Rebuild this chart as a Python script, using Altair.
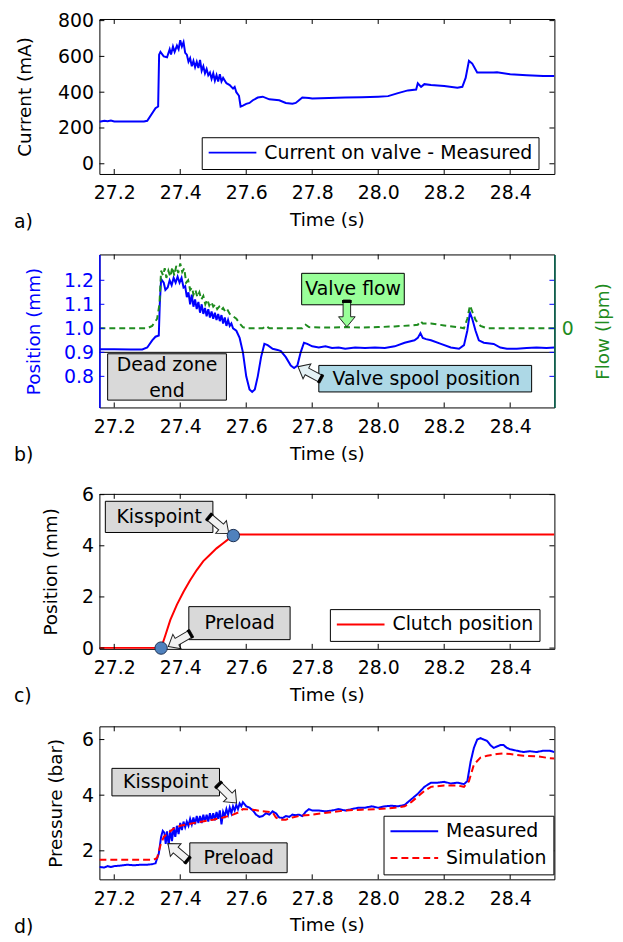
import altair as alt
import pandas as pd

FONT = "DejaVu Sans"
BLUE = "#0000ff"
RED = "#ff0000"
GREEN = "#1f8c1f"
GREEN_AXIS = "#00604a"
GRAY = "#d9d9d9"
ARROW_FILL = "#f2f2f2"

T_DOMAIN = [27.155, 28.534]
X_TICKS = [27.2, 27.4, 27.6, 27.8, 28.0, 28.2, 28.4]
PLOT_W = 458

# ---------------- data (time s, value) ----------------
CURRENT = [
    (27.155, 235), (27.17, 240), (27.18, 238), (27.19, 242), (27.20, 236), (27.29, 236),
    (27.30, 240), (27.325, 310), (27.333, 320), (27.336, 610), (27.34, 625), (27.35, 600),
    (27.36, 595), (27.368, 640), (27.372, 610), (27.378, 655), (27.383, 625), (27.39, 660),
    (27.395, 640), (27.40, 690), (27.405, 655), (27.41, 680), (27.415, 620), (27.42, 610),
    (27.425, 570), (27.43, 590), (27.435, 545), (27.44, 575), (27.445, 540), (27.45, 570),
    (27.455, 535), (27.46, 580), (27.465, 520), (27.47, 545), (27.475, 505), (27.48, 530),
    (27.485, 495), (27.49, 510), (27.495, 475), (27.50, 505), (27.505, 465), (27.51, 495),
    (27.515, 460), (27.52, 500), (27.525, 460), (27.53, 480), (27.54, 450), (27.55, 440),
    (27.56, 420), (27.565, 430), (27.57, 400), (27.578, 380), (27.583, 320), (27.59, 325),
    (27.60, 335), (27.61, 340), (27.62, 355), (27.635, 370), (27.65, 375), (27.67, 360),
    (27.70, 355), (27.72, 340), (27.74, 335), (27.75, 340), (27.76, 355), (27.77, 370),
    (27.79, 368), (27.80, 365), (27.85, 368), (27.90, 370), (27.95, 372), (28.00, 375),
    (28.03, 378), (28.06, 395), (28.09, 410), (28.115, 415), (28.12, 450), (28.13, 430),
    (28.14, 445), (28.16, 440), (28.20, 435), (28.24, 425), (28.255, 430), (28.265, 480),
    (28.275, 575), (28.285, 560), (28.30, 510), (28.35, 510), (28.36, 512), (28.40, 500),
    (28.45, 495), (28.50, 490), (28.534, 490),
]

SPOOL = [
    (27.155, 0.913), (27.20, 0.913), (27.25, 0.912), (27.285, 0.912), (27.30, 0.92),
    (27.315, 0.95), (27.325, 0.965), (27.335, 0.97), (27.338, 1.10), (27.342, 1.205),
    (27.35, 1.19), (27.355, 1.16), (27.362, 1.17), (27.368, 1.20), (27.374, 1.18),
    (27.38, 1.21), (27.386, 1.19), (27.392, 1.215), (27.398, 1.19), (27.404, 1.21),
    (27.41, 1.17), (27.415, 1.175), (27.42, 1.13), (27.425, 1.15), (27.43, 1.10),
    (27.435, 1.14), (27.44, 1.09), (27.445, 1.12), (27.45, 1.08), (27.455, 1.11),
    (27.46, 1.065), (27.465, 1.10), (27.47, 1.06), (27.475, 1.085), (27.48, 1.05),
    (27.485, 1.08), (27.49, 1.045), (27.495, 1.07), (27.50, 1.04), (27.505, 1.065),
    (27.51, 1.035), (27.515, 1.06), (27.52, 1.03), (27.525, 1.055), (27.53, 1.02),
    (27.535, 1.045), (27.54, 1.01), (27.545, 1.035), (27.55, 1.01), (27.555, 1.02),
    (27.56, 1.0), (27.57, 0.99), (27.58, 0.96), (27.59, 0.90), (27.60, 0.80),
    (27.61, 0.745), (27.618, 0.735), (27.626, 0.745), (27.635, 0.80), (27.645, 0.88),
    (27.655, 0.935), (27.665, 0.93), (27.68, 0.915), (27.695, 0.91), (27.705, 0.905),
    (27.72, 0.88), (27.735, 0.845), (27.745, 0.835), (27.755, 0.845), (27.765, 0.90),
    (27.775, 0.94), (27.785, 0.935), (27.80, 0.925), (27.82, 0.92), (27.84, 0.925),
    (27.86, 0.918), (27.88, 0.92), (27.90, 0.915), (27.93, 0.92), (27.96, 0.918),
    (27.99, 0.92), (28.02, 0.918), (28.05, 0.925), (28.08, 0.94), (28.11, 0.95),
    (28.12, 0.96), (28.128, 0.98), (28.135, 0.96), (28.145, 0.955), (28.16, 0.95),
    (28.19, 0.935), (28.22, 0.92), (28.245, 0.915), (28.26, 0.93), (28.27, 0.99),
    (28.278, 1.065), (28.285, 1.04), (28.295, 0.99), (28.305, 0.95), (28.32, 0.94),
    (28.35, 0.935), (28.37, 0.92), (28.39, 0.915), (28.42, 0.915), (28.45, 0.918),
    (28.48, 0.92), (28.51, 0.918), (28.534, 0.92),
]

FLOW = [
    (27.155, 1.0), (27.30, 1.0), (27.315, 1.01), (27.33, 1.04), (27.337, 1.10),
    (27.342, 1.24), (27.348, 1.22), (27.353, 1.25), (27.358, 1.21), (27.364, 1.24),
    (27.37, 1.215), (27.376, 1.255), (27.382, 1.22), (27.388, 1.26), (27.394, 1.23),
    (27.40, 1.27), (27.406, 1.235), (27.412, 1.25), (27.418, 1.19), (27.424, 1.20),
    (27.43, 1.16), (27.436, 1.17), (27.44, 1.14), (27.446, 1.16), (27.452, 1.13),
    (27.458, 1.15), (27.464, 1.12), (27.47, 1.135), (27.476, 1.10), (27.482, 1.12),
    (27.488, 1.095), (27.494, 1.11), (27.50, 1.09), (27.506, 1.10), (27.512, 1.08),
    (27.518, 1.09), (27.524, 1.075), (27.53, 1.085), (27.536, 1.07), (27.542, 1.08),
    (27.55, 1.06), (27.56, 1.05), (27.57, 1.04), (27.58, 1.02), (27.59, 1.005),
    (27.60, 1.0), (27.65, 1.0), (27.66, 1.01), (27.67, 1.0), (27.77, 1.0),
    (27.78, 1.015), (27.79, 1.005), (27.85, 1.003), (27.90, 1.005), (27.95, 1.003),
    (28.00, 1.005), (28.05, 1.008), (28.10, 1.012), (28.12, 1.015), (28.128, 1.03),
    (28.135, 1.02), (28.16, 1.02), (28.20, 1.012), (28.24, 1.005), (28.26, 1.0),
    (28.27, 1.04), (28.278, 1.095), (28.285, 1.07), (28.295, 1.035), (28.31, 1.01),
    (28.33, 1.0), (28.534, 1.0),
]

CLUTCH = [
    (27.155, 0.0), (27.342, 0.0), (27.355, 0.5), (27.37, 1.1), (27.39, 1.7), (27.41, 2.2),
    (27.43, 2.65), (27.45, 3.05), (27.47, 3.4), (27.49, 3.65), (27.51, 3.9), (27.53, 4.1),
    (27.55, 4.3), (27.561, 4.42), (27.57, 4.44), (28.534, 4.44),
]

PRESS_MEAS = [
    (27.155, 1.42), (27.17, 1.40), (27.18, 1.45), (27.19, 1.42), (27.20, 1.45), (27.22, 1.47),
    (27.24, 1.50), (27.26, 1.48), (27.28, 1.50), (27.30, 1.50), (27.315, 1.52), (27.325, 1.55),
    (27.335, 1.9), (27.342, 2.5), (27.347, 2.72), (27.352, 2.65), (27.356, 2.25), (27.36, 2.7),
    (27.365, 2.2), (27.37, 2.75), (27.375, 2.35), (27.38, 2.85), (27.385, 2.5), (27.39, 2.9),
    (27.395, 2.6), (27.40, 3.0), (27.405, 2.75), (27.41, 3.05), (27.415, 2.85), (27.42, 3.05),
    (27.425, 2.9), (27.43, 3.15), (27.435, 2.95), (27.44, 3.2), (27.445, 2.95), (27.45, 3.25),
    (27.455, 3.0), (27.46, 3.25), (27.465, 3.0), (27.47, 3.3), (27.475, 3.05), (27.48, 3.3),
    (27.485, 3.05), (27.49, 3.35), (27.495, 3.1), (27.50, 3.35), (27.505, 3.1), (27.51, 3.4),
    (27.515, 3.15), (27.52, 3.45), (27.525, 2.95), (27.53, 3.4), (27.535, 3.25), (27.54, 3.5),
    (27.545, 3.3), (27.55, 3.55), (27.555, 3.35), (27.56, 3.6), (27.565, 3.45), (27.57, 3.65),
    (27.575, 3.5), (27.58, 3.7), (27.585, 3.6), (27.59, 3.75), (27.60, 3.6), (27.61, 3.55),
    (27.62, 3.45), (27.63, 3.3), (27.64, 3.22), (27.65, 3.25), (27.66, 3.35), (27.67, 3.3),
    (27.68, 3.42), (27.69, 3.35), (27.70, 3.2), (27.71, 3.18), (27.72, 3.25), (27.73, 3.22),
    (27.74, 3.3), (27.75, 3.28), (27.76, 3.3), (27.77, 3.25), (27.78, 3.4), (27.79, 3.5),
    (27.80, 3.45), (27.82, 3.45), (27.84, 3.42), (27.86, 3.45), (27.88, 3.5), (27.90, 3.45),
    (27.92, 3.5), (27.94, 3.55), (27.96, 3.55), (27.98, 3.6), (28.00, 3.55), (28.02, 3.6),
    (28.04, 3.62), (28.06, 3.6), (28.08, 3.65), (28.10, 3.85), (28.12, 4.05), (28.14, 4.3),
    (28.16, 4.45), (28.18, 4.45), (28.20, 4.48), (28.22, 4.42), (28.24, 4.45), (28.26, 4.4),
    (28.27, 4.5), (28.28, 5.2), (28.29, 5.7), (28.30, 6.0), (28.31, 6.05), (28.32, 6.0),
    (28.33, 5.95), (28.34, 5.8), (28.35, 5.7), (28.36, 5.75), (28.37, 5.8), (28.38, 5.8),
    (28.39, 5.7), (28.40, 5.65), (28.42, 5.6), (28.44, 5.55), (28.46, 5.58), (28.48, 5.55),
    (28.50, 5.6), (28.52, 5.6), (28.534, 5.55),
]

PRESS_SIM = [
    (27.155, 1.68), (27.32, 1.68), (27.33, 1.75), (27.34, 2.2), (27.35, 2.5), (27.36, 2.6),
    (27.37, 2.7), (27.38, 2.8), (27.39, 2.85), (27.40, 2.9), (27.42, 2.95), (27.45, 3.02),
    (27.48, 3.08), (27.50, 3.12), (27.53, 3.2), (27.56, 3.3), (27.58, 3.4), (27.59, 3.5),
    (27.62, 3.48), (27.65, 3.42), (27.68, 3.38), (27.69, 3.2), (27.70, 3.12), (27.72, 3.12),
    (27.74, 3.2), (27.76, 3.25), (27.78, 3.28), (27.80, 3.3), (27.85, 3.38), (27.90, 3.45),
    (27.95, 3.48), (28.00, 3.5), (28.05, 3.55), (28.08, 3.6), (28.10, 3.75), (28.12, 3.95),
    (28.14, 4.15), (28.16, 4.3), (28.20, 4.35), (28.24, 4.35), (28.26, 4.3), (28.275, 4.5),
    (28.29, 5.1), (28.31, 5.35), (28.33, 5.42), (28.36, 5.48), (28.38, 5.5), (28.40, 5.48),
    (28.44, 5.42), (28.48, 5.4), (28.52, 5.33), (28.534, 5.32),
]

# annotations (data units)
B_BOXES = [(27.768, 28.079, 1.098, 1.229, "#99ff99"),
           (27.820, 28.465, 0.735, 0.8455, "#add8e6"),
           (27.180, 27.540, 0.701, 0.894, GRAY)]
B_TEXTS = [(27.924, 1.163, "Valve flow"), (28.146, 0.790, "Valve spool position"),
           (27.360, 0.846, "Dead zone"), (27.360, 0.738, "end")]
B_ARROWS = [(27.905, 1.062, 90, "#99ff99"), (27.793, 0.814, 208, "#e4f1f5")]

C_BOXES = [(27.173, 27.499, 4.52, 5.74, GRAY), (27.426, 27.733, 0.33, 1.62, GRAY)]
C_TEXTS = [(27.336, 5.13, "Kisspoint"), (27.58, 0.975, "Preload")]
C_ARROWS = [(27.516, 4.82, 40, ARROW_FILL), (27.399, 0.32, 150, ARROW_FILL)]
C_POINTS = [(27.342, 0.0), (27.561, 4.40)]

D_BOXES = [(27.193, 27.519, 3.975, 4.964, GRAY), (27.429, 27.724, 1.214, 2.286, GRAY)]
D_TEXTS = [(27.356, 4.47, "Kisspoint"), (27.577, 1.75, "Preload")]
D_ARROWS = [(27.542, 4.064, 45, ARROW_FILL), (27.394, 1.95, 220, ARROW_FILL)]

ARROW_PATH = "M1,0L0.25,-0.62L0.25,-0.28L-1,-0.28L-1,0.28L0.25,0.28L0.25,0.62Z"
TAIL_PATH = "M-1,-0.36L-0.78,-0.36L-0.78,0.36L-1,0.36Z"

XS = alt.Scale(domain=T_DOMAIN, nice=False, zero=False)


def x_axis():
    return alt.Axis(values=X_TICKS, format=".1f", title="Time (s)", labelPadding=10,
                    titlePadding=8, ticks=False, tickSize=0, domain=False, grid=False)


def X(field):
    return alt.X(field, type="quantitative", scale=XS, axis=x_axis())


def frame(ys, yax, yticks, H, label, ycolor="black"):
    xt = pd.DataFrame({"t": X_TICKS})
    yt = pd.DataFrame({"v": yticks})
    top = alt.Chart(xt).mark_rule(color="black", strokeWidth=1).encode(
        x=X("t"), y=alt.value(0), y2=alt.value(5))
    bot = alt.Chart(xt).mark_rule(color="black", strokeWidth=1).encode(
        x=X("t"), y=alt.value(H), y2=alt.value(H - 5))
    lef = alt.Chart(yt).mark_rule(color=ycolor, strokeWidth=1).encode(
        y=alt.Y("v:Q", scale=ys, axis=yax), x=alt.value(0), x2=alt.value(5))
    rig = alt.Chart(yt).mark_rule(color=ycolor, strokeWidth=1).encode(
        y=alt.Y("v:Q", scale=ys, axis=yax), x=alt.value(PLOT_W), x2=alt.value(PLOT_W - 5))
    lab = alt.Chart(pd.DataFrame({"l": [label]})).mark_text(
        align="left", baseline="middle", font=FONT, fontSize=19, color="black").encode(
        text="l:N", x=alt.value(-86), y=alt.value(H + 48))
    return [top, bot, lef, rig, lab]


def boxes(data, ys, yax):
    df = pd.DataFrame(data, columns=["x1", "x2", "y1", "y2", "f"])
    return alt.Chart(df).mark_rect(stroke="black", strokeWidth=1).encode(
        x=X("x1"), x2="x2:Q",
        y=alt.Y("y1:Q", scale=ys, axis=yax), y2="y2:Q",
        fill=alt.Fill("f:N", scale=None))


def texts(data, ys, yax):
    df = pd.DataFrame(data, columns=["t", "v", "s"])
    return alt.Chart(df).mark_text(font=FONT, fontSize=19, color="black").encode(
        x=X("t"), y=alt.Y("v:Q", scale=ys, axis=yax), text="s:N")


def arrows(data, ys, yax):
    df = pd.DataFrame(data, columns=["t", "v", "a", "f"])
    body = alt.Chart(df).mark_point(shape=ARROW_PATH, size=729, filled=True, stroke="#222222",
                                    strokeWidth=1, opacity=1).encode(
        x=X("t"), y=alt.Y("v:Q", scale=ys, axis=yax),
        angle=alt.Angle("a:Q", scale=None), fill=alt.Fill("f:N", scale=None))
    tail = alt.Chart(df).mark_point(shape=TAIL_PATH, size=729, filled=True, color="black",
                                    opacity=1).encode(
        x=X("t"), y=alt.Y("v:Q", scale=ys, axis=yax),
        angle=alt.Angle("a:Q", scale=None))
    return [body, tail]


def legend(lx, ly):
    return alt.Legend(orient="none", legendX=lx, legendY=ly, title=None, fillColor="white",
                      strokeColor="black", padding=6, labelFont=FONT, labelFontSize=19,
                      symbolType="stroke", symbolSize=2304, symbolStrokeWidth=2,
                      clipHeight=19, labelOffset=7, labelLimit=400, rowPadding=7)


# ---------------- panel a ----------------
H_A = 156
YS_A = alt.Scale(domain=[-57, 809], nice=False, zero=False)
A_TICKS = [0, 200, 400, 600, 800]
YAX_A = alt.Axis(values=A_TICKS, title="Current (mA)", titlePadding=23)
df_a = pd.DataFrame(CURRENT, columns=["t", "v"])
df_a["s"] = "Current on valve - Measured"
line_a = alt.Chart(df_a).mark_line(strokeWidth=2, clip=True).encode(
    x=X("t"),
    y=alt.Y("v:Q", scale=YS_A, axis=YAX_A),
    color=alt.Color("s:N", scale=alt.Scale(domain=["Current on valve - Measured"], range=[BLUE]),
                    legend=legend(103, 119)))
panel_a = alt.layer(line_a, *frame(YS_A, YAX_A, A_TICKS, H_A, "a)")).properties(
    width=PLOT_W, height=H_A)

# ---------------- panel b ----------------
H_B = 154
YS_B = alt.Scale(domain=[0.6705, 1.3076], nice=False, zero=False)
B_TICKS = [0.8, 0.9, 1.0, 1.1, 1.2]
df_sp = pd.DataFrame(SPOOL, columns=["t", "v"])
df_fl = pd.DataFrame(FLOW, columns=["t", "v"])
line_sp = alt.Chart(df_sp).mark_line(strokeWidth=2, color=BLUE, clip=True).encode(
    x=X("t"),
    y=alt.Y("v:Q", scale=YS_B, axis=alt.Axis(
        orient="left", values=B_TICKS, format=".1f", title="Position (mm)", labelColor=BLUE,
        titleColor=BLUE, domain=True, domainColor=BLUE, domainWidth=1.5, zindex=2,
        titlePadding=20)))
line_fl = alt.Chart(df_fl).mark_line(strokeWidth=2, color=GREEN, strokeDash=[6, 4], clip=True).encode(
    x=X("t"),
    y=alt.Y("v:Q", scale=YS_B, axis=alt.Axis(
        orient="right", values=[1.0], labelExpr="'0'", title="Flow (lpm)", labelColor=GREEN,
        titleColor=GREEN, titleAngle=270, titleBaseline="top", domain=True,
        domainColor=GREEN_AXIS, domainWidth=1.5, zindex=2, labelPadding=7, titlePadding=20)))
dead = alt.Chart(pd.DataFrame({"v": [0.9]})).mark_rule(color="black", strokeWidth=1).encode(
    y=alt.Y("v:Q", scale=YS_B, axis=None))
panel_b = alt.layer(
    line_sp, line_fl, dead, boxes(B_BOXES, YS_B, None), texts(B_TEXTS, YS_B, None),
    *arrows(B_ARROWS, YS_B, None), *frame(YS_B, None, B_TICKS, H_B, "b)", ycolor=BLUE)
).resolve_axis(y="independent").properties(width=PLOT_W, height=H_B)

# ---------------- panel c ----------------
H_C = 156
YS_C = alt.Scale(domain=[-0.03, 6.03], nice=False, zero=False)
C_TICKS = [0, 2, 4, 6]
YAX_C = alt.Axis(values=C_TICKS, title="Position (mm)", titlePadding=21)
df_c = pd.DataFrame(CLUTCH, columns=["t", "v"])
df_c["s"] = "Clutch position"
line_c = alt.Chart(df_c).mark_line(strokeWidth=2, clip=True).encode(
    x=X("t"),
    y=alt.Y("v:Q", scale=YS_C, axis=YAX_C),
    color=alt.Color("s:N", scale=alt.Scale(domain=["Clutch position"], range=[RED]),
                    legend=legend(232, 116)))
pts_c = alt.Chart(pd.DataFrame(C_POINTS, columns=["t", "v"])).mark_point(
    shape="circle", size=155, filled=True, fill="#4f81bd", stroke="#1c2f52", strokeWidth=1,
    opacity=1).encode(x=X("t"), y=alt.Y("v:Q", scale=YS_C, axis=YAX_C))
panel_c = alt.layer(
    line_c, boxes(C_BOXES, YS_C, YAX_C), texts(C_TEXTS, YS_C, YAX_C),
    *arrows(C_ARROWS, YS_C, YAX_C), pts_c,
    *frame(YS_C, YAX_C, C_TICKS, H_C, "c)")
).properties(width=PLOT_W, height=H_C)

# ---------------- panel d ----------------
H_D = 154
YS_D = alt.Scale(domain=[0.975, 6.475], nice=False, zero=False)
D_TICKS = [2, 4, 6]
YAX_D = alt.Axis(values=D_TICKS, title="Pressure (bar)", titlePadding=16)
dm = pd.DataFrame(PRESS_MEAS, columns=["t", "v"])
dm["s"] = "Measured"
dsim = pd.DataFrame(PRESS_SIM, columns=["t", "v"])
dsim["s"] = "Simulation"
df_d = pd.concat([dm, dsim], ignore_index=True)
leg_d = legend(286, 90)
line_d = alt.Chart(df_d).mark_line(strokeWidth=2, clip=True).encode(
    x=X("t"),
    y=alt.Y("v:Q", scale=YS_D, axis=YAX_D),
    color=alt.Color("s:N", scale=alt.Scale(domain=["Measured", "Simulation"], range=[BLUE, RED]),
                    legend=leg_d),
    strokeDash=alt.StrokeDash("s:N", scale=alt.Scale(domain=["Measured", "Simulation"],
                                                     range=[[1, 0], [7, 4]]), legend=leg_d))
panel_d = alt.layer(
    line_d, boxes(D_BOXES, YS_D, YAX_D), texts(D_TEXTS, YS_D, YAX_D),
    *arrows(D_ARROWS, YS_D, YAX_D),
    *frame(YS_D, YAX_D, D_TICKS, H_D, "d)")
).properties(width=PLOT_W, height=H_D)

top_pair = alt.vconcat(panel_a, panel_b, spacing=21).resolve_scale(
    color="independent", strokeDash="independent").resolve_legend(
    color="independent", strokeDash="independent")
bot_pair = alt.vconcat(panel_c, panel_d, spacing=18).resolve_scale(
    color="independent", strokeDash="independent").resolve_legend(
    color="independent", strokeDash="independent")

chart = alt.vconcat(top_pair, bot_pair, spacing=19).resolve_scale(
    color="independent", strokeDash="independent").resolve_legend(
    color="independent", strokeDash="independent").properties(
    padding={"left": 5, "right": 2, "top": 0, "bottom": 0}
).configure(font=FONT).configure_view(
    stroke="black", strokeWidth=1
).configure_axis(
    labelFont=FONT, titleFont=FONT, labelFontSize=19, titleFontSize=18.5,
    titleFontWeight="normal", grid=False, ticks=False, tickSize=0, domain=False,
    labelColor="black", titleColor="black"
).configure_axisY(
    labelPadding=6
)

chart.save("out.html", embed_options={"renderer": "svg", "actions": False})
